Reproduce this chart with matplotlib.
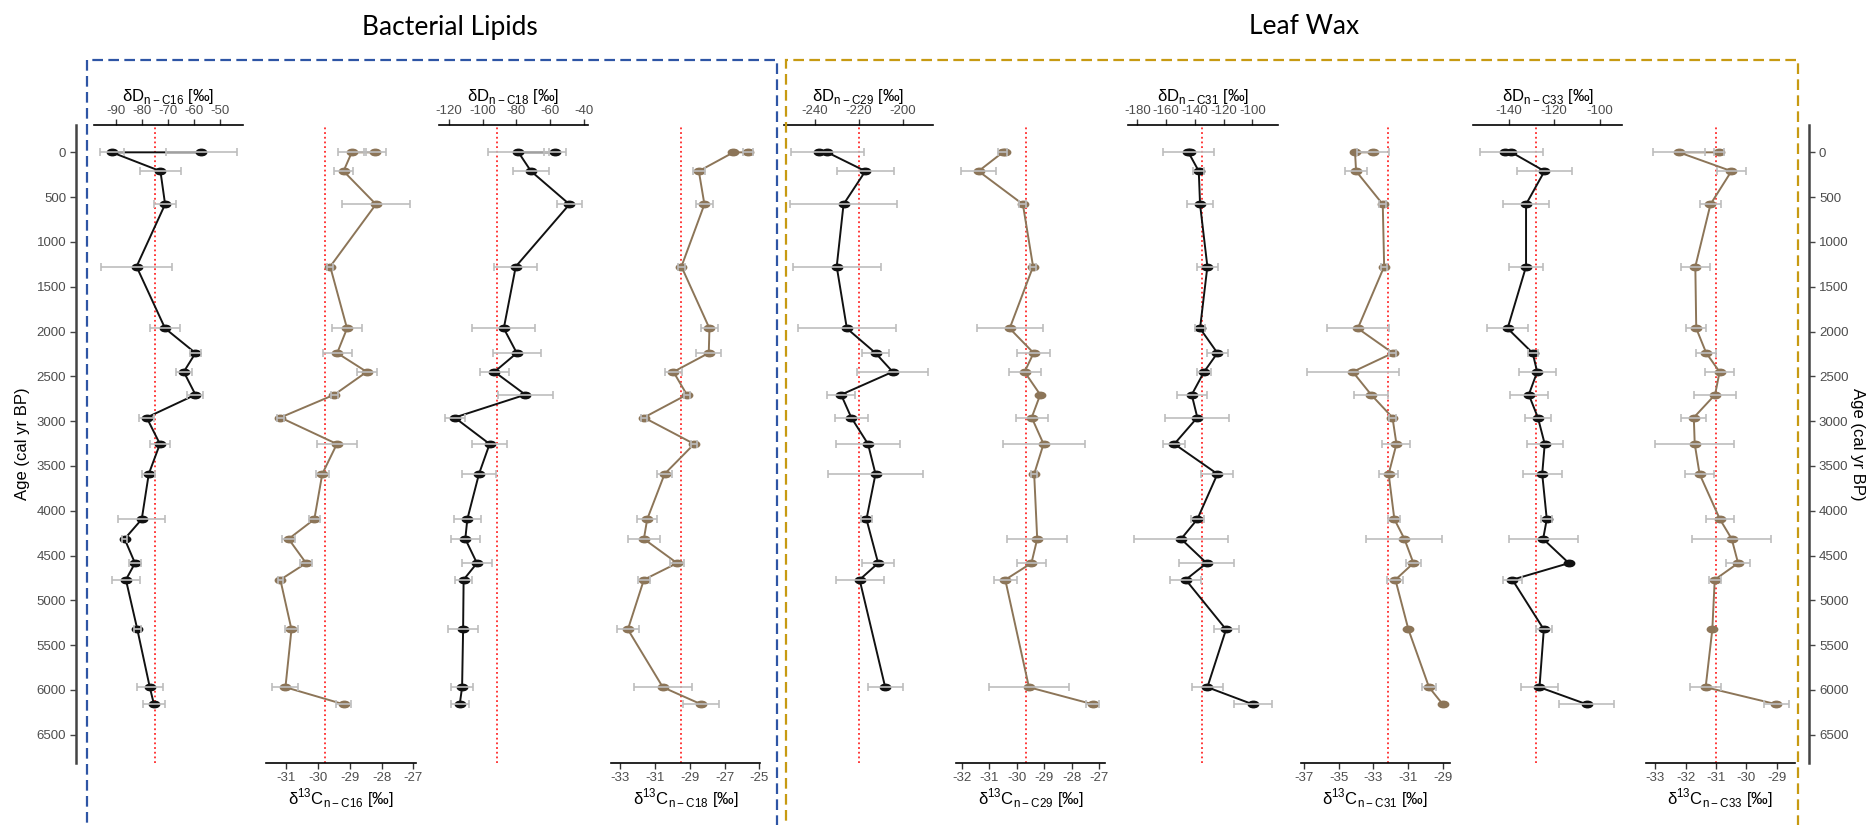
import numpy as np
import matplotlib
matplotlib.use('Agg')
import matplotlib.pyplot as plt
from matplotlib.path import Path
from matplotlib.patches import Rectangle

nan = np.nan

# sample ages (cal yr BP), two samples at age 0
AGE = [0, 0, 210, 580, 1275, 1965, 2240, 2450, 2705, 2960, 3255, 3590, 4095, 4315, 4585, 4770, 5325, 5970, 6160]

# bacterial lipids
dD_C16 = [-57.3, -91.7, -73.0, -71.2, -82.2, -71.2, -59.5, -64.0, -59.5, -78.3, -73.2, -77.5, -80.2, -86.8, -82.8, -86.3, -81.9, -77.1, -75.5]
dD_C16_err = [13.7, 4.6, 7.8, 4.2, 13.8, 5.8, 2.2, 3.0, 3.1, 2.8, 4.0, 2.6, 9.1, 1.0, 2.3, 5.4, 1.3, 5.0, 4.2]
d13C_C16 = [-28.20, -28.94, -29.20, -28.18, -29.62, -29.09, -29.40, -28.47, -29.49, -31.19, -29.41, -29.87, -30.12, -30.93, -30.38, -31.19, -30.84, -31.03, -29.20]
d13C_C16_err = [0.34, 0.44, 0.31, 1.07, 0.10, 0.47, 0.46, 0.31, 0.10, 0.10, 0.62, 0.20, 0.18, 0.20, 0.18, 0.09, 0.21, 0.41, 0.24]
dD_C18 = [-57.3, -78.7, -71.3, -48.5, -80.3, -87.4, -79.7, -92.9, -74.6, -116.5, -95.8, -102.1, -109.0, -110.2, -103.3, -111.2, -111.5, -112.1, -113.5]
dD_C18_err = [6.5, 18.0, 10.8, 7.6, 12.8, 18.6, 14.2, 8.4, 16.5, 6.0, 10.3, 10.3, 7.9, 8.6, 8.8, 5.1, 8.8, 6.4, 5.4]
d13C_C18 = [-25.67, -26.49, -28.48, -28.16, -29.48, -27.87, -27.91, -29.94, -29.17, -31.64, -28.75, -30.45, -31.45, -31.64, -29.73, -31.64, -32.56, -30.55, -28.35]
d13C_C18_err = [0.29, 0, 0.33, 0.50, 0.22, 0.47, 0.73, 0.51, 0.18, 0.16, 0.17, 0.44, 0.59, 0.92, 0.38, 0.33, 0.63, 1.67, 1.03]

# leaf wax
dD_C29 = [-238.2, -234.4, -217.1, -227.0, -230.1, -225.5, -212.5, -204.7, -228.1, -223.5, -215.9, -212.5, -216.6, nan, -211.3, -219.7, nan, -208.1, nan]
dD_C29_err = [0, 16.5, 12.8, 24.1, 20.0, 22.3, 5.9, 16.0, 6.3, 7.4, 14.7, 21.6, 2.6, nan, 7.3, 10.9, nan, 7.9, nan]
d13C_C29 = [-30.43, -30.50, -31.38, -29.77, -29.40, -30.25, -29.38, -29.71, -29.14, -29.45, -29.02, -29.36, nan, -29.25, -29.46, -30.41, nan, -29.55, -27.23]
d13C_C29_err = [0, 0.16, 0.63, 0.13, 0.11, 1.20, 0.59, 0.58, 0, 0.58, 1.49, 0.12, nan, 1.08, 0.53, 0.41, nan, 1.46, 0.23]
dD_C31 = [-143.5, -144.5, -137.3, -136.4, -131.3, -136.4, -124.3, -133.6, -142.2, -138.3, -154.3, -124.3, -138.3, -149.6, -131.8, -146.4, -118.3, -131.3, -99.8]
dD_C31_err = [0, 18.0, 3.7, 8.8, 7.5, 3.7, 7.3, 4.8, 10.3, 22.3, 7.7, 11.1, 4.6, 32.6, 19.0, 11.0, 8.7, 10.8, 13.2]
d13C_C31 = [-33.0, -34.06, -34.0, -32.46, -32.38, -33.9, -31.88, -34.19, -33.13, -31.9, -31.67, -32.12, -31.79, -31.21, -30.69, -31.73, -30.98, -29.79, -29.0]
d13C_C31_err = [0.92, 0, 0.63, 0.19, 0.19, 1.78, 0.21, 2.65, 0.97, 0.18, 0.81, 0.54, 0.35, 2.19, 0.42, 0.46, 0, 0.38, 0]
dD_C33 = [-141.6, -138.7, -124.2, -132.3, -132.3, -140.4, -129.4, -127.4, -131.1, -127.1, -124.1, -125.2, -123.2, -124.8, -113.5, -138.3, -124.5, -126.4, -105.7]
dD_C33_err = [0, 14.0, 12.0, 10.2, 7.5, 9.0, 2.2, 8.2, 8.3, 5.7, 8.0, 8.5, 2.4, 15.1, 0, 4.3, 3.4, 8.1, 12.0]
d13C_C33 = [-30.90, -32.22, -30.49, -31.18, -31.68, -31.65, -31.32, -30.88, -31.03, -31.73, -31.70, -31.54, -30.87, -30.48, -30.27, -31.04, -31.12, -31.34, -29.01]
d13C_C33_err = [0.15, 0.87, 0.49, 0.34, 0.47, 0.33, 0.33, 0.47, 0.70, 0.41, 1.30, 0.49, 0.46, 1.31, 0.40, 0.19, 0, 0.52, 0.41]

# mean reference lines (red dotted)
MEANS = [-75.2, -29.79, -91.7, -29.52, -220.0, -29.66, -134.8, -32.13, -128.0, -31.0]

W, H = 1871, 825
plt.rcParams['font.family'] = ['Liberation Sans', 'DejaVu Sans']
plt.rcParams['mathtext.fontset'] = 'custom'
plt.rcParams['mathtext.rm'] = 'Liberation Sans'
plt.rcParams['axes.unicode_minus'] = False

BLACK = '#111111'
BROWN = '#8C7558'
ERRC = '#BDBDBD'
TICKC = '#4D4D4D'

circ = Path.unit_circle()
ellipse = Path(circ.vertices * np.array([1.0, 0.62]), circ.codes)


def dlabel(c):
    return 'δD$_{\\mathregular{n-%s}}$ [‰]' % c


def clabel(c):
    return 'δ$^{\\mathregular{13}}$C$_{\\mathregular{n-%s}}$ [‰]' % c


panels = [
    ('D', 'C16', dD_C16, dD_C16_err, (-98.6, -41.1), np.arange(-90, -49, 10)),
    ('C', 'C16', d13C_C16, d13C_C16_err, (-31.63, -26.93), np.arange(-31, -26.5, 1)),
    ('D', 'C18', dD_C18, dD_C18_err, (-125.9, -37.5), np.arange(-120, -39, 20)),
    ('C', 'C18', d13C_C18, d13C_C18_err, (-33.52, -24.94), np.arange(-33, -24.5, 2)),
    ('D', 'C29', dD_C29, dD_C29_err, (-254.2, -186.5), np.arange(-240, -199, 20)),
    ('C', 'C29', d13C_C29, d13C_C29_err, (-32.2, -26.78), np.arange(-32, -26.5, 1)),
    ('D', 'C31', dD_C31, dD_C31_err, (-186.3, -82.4), np.arange(-180, -99, 20)),
    ('C', 'C31', d13C_C31, d13C_C31_err, (-37.19, -28.58), np.arange(-37, -28.5, 2)),
    ('D', 'C33', dD_C33, dD_C33_err, (-155.5, -90.0), np.arange(-140, -99, 20)),
    ('C', 'C33', d13C_C33, d13C_C33_err, (-33.32, -28.4), np.arange(-33, -28.5, 1)),
]

YLIM = (6819, -305)
ax_top, ax_bot = 125, 763.3
bottom = 1 - ax_bot / H
height = (ax_bot - ax_top) / H

fig = plt.figure(figsize=(W / 100, H / 100), dpi=100)

age = np.array(AGE, float)
for i, (kind, chain, vals, errs, xlim, ticks) in enumerate(panels):
    left = 94 + 172.4 * i
    ax = fig.add_axes([left / W, bottom, 149.2 / W, height])
    ax.patch.set_alpha(0)
    x = np.array(vals, float)
    e = np.array(errs, float)
    m = ~np.isnan(x)
    col = BLACK if kind == 'D' else BROWN
    ax.axvline(MEANS[i], color='#FF2A2A', ls=(0, (1, 1.6)), lw=1.3, zorder=1)
    ax.plot(x[m], age[m], '-', color=col, lw=1.4, zorder=2)
    ax.plot(x[m], age[m], ls='none', marker=ellipse, ms=7.5, mfc=col, mec=col, zorder=3)
    me = m & (np.nan_to_num(e) > 0)
    ax.errorbar(x[me], age[me], xerr=e[me], fmt='none', ecolor=ERRC, elinewidth=1.2,
                capsize=2.6, capthick=1.2, zorder=4)
    ax.set_xlim(*xlim)
    ax.set_ylim(*YLIM)
    ax.set_xticks(ticks)
    ax.set_xticklabels(['%d' % t for t in ticks])
    ax.set_yticks([])
    for s in ['left', 'right', 'top', 'bottom']:
        ax.spines[s].set_visible(False)
    if kind == 'D':
        ax.xaxis.tick_top()
        ax.xaxis.set_label_position('top')
        ax.spines['top'].set_visible(True)
        ax.spines['top'].set_linewidth(1.2)
        ax.set_xlabel(dlabel(chain), fontsize=12, labelpad=3)
    else:
        ax.spines['bottom'].set_visible(True)
        ax.spines['bottom'].set_linewidth(1.2)
        ax.set_xlabel(clabel(chain), fontsize=12, labelpad=2)
    ax.tick_params(axis='x', length=4, width=1.0, color='#333333', labelsize=9.5,
                   labelcolor=TICKC, pad=2)

# age axes on both sides
for xpos, side in [(76, 'left'), (1809, 'right')]:
    axa = fig.add_axes([xpos / W, bottom, 0.0001, height])
    axa.patch.set_alpha(0)
    axa.set_ylim(*YLIM)
    axa.set_xticks([])
    for s in ['left', 'right', 'top', 'bottom']:
        axa.spines[s].set_visible(False)
    axa.spines[side].set_visible(True)
    axa.spines[side].set_linewidth(1.8)
    axa.spines[side].set_color('#444444')
    axa.set_yticks(np.arange(0, 6501, 500))
    if side == 'right':
        axa.yaxis.tick_right()
    axa.tick_params(axis='y', length=4, width=1.0, color='#444444', labelsize=9.5,
                    labelcolor=TICKC, pad=3)

ymid = 1 - (ax_top + ax_bot) / 2 / H
fig.text(23 / W, ymid, 'Age (cal yr BP)', rotation=90, ha='center', va='center', fontsize=12)
fig.text(1858 / W, ymid, 'Age (cal yr BP)', rotation=270, ha='center', va='center', fontsize=12)

# group titles and dashed frames
fig.text(450 / W, 1 - 27 / H, 'Bacterial Lipids', ha='center', va='center', fontsize=19,
         family=['Lato', 'DejaVu Sans'])
fig.text(1304 / W, 1 - 27 / H, 'Leaf Wax', ha='center', va='center', fontsize=19,
         family=['Lato', 'DejaVu Sans'])

for x0, x1, col in [(87, 777, '#2E55A5'), (786, 1798, '#C79A12')]:
    fig.add_artist(Rectangle((x0 / W, -0.1), (x1 - x0) / W, 1 - 60 / H + 0.1,
                             transform=fig.transFigure, fill=False, ec=col, lw=1.6,
                             ls=(0, (4.8, 2.4)), clip_on=False))

fig.savefig('out.png', dpi=100)
